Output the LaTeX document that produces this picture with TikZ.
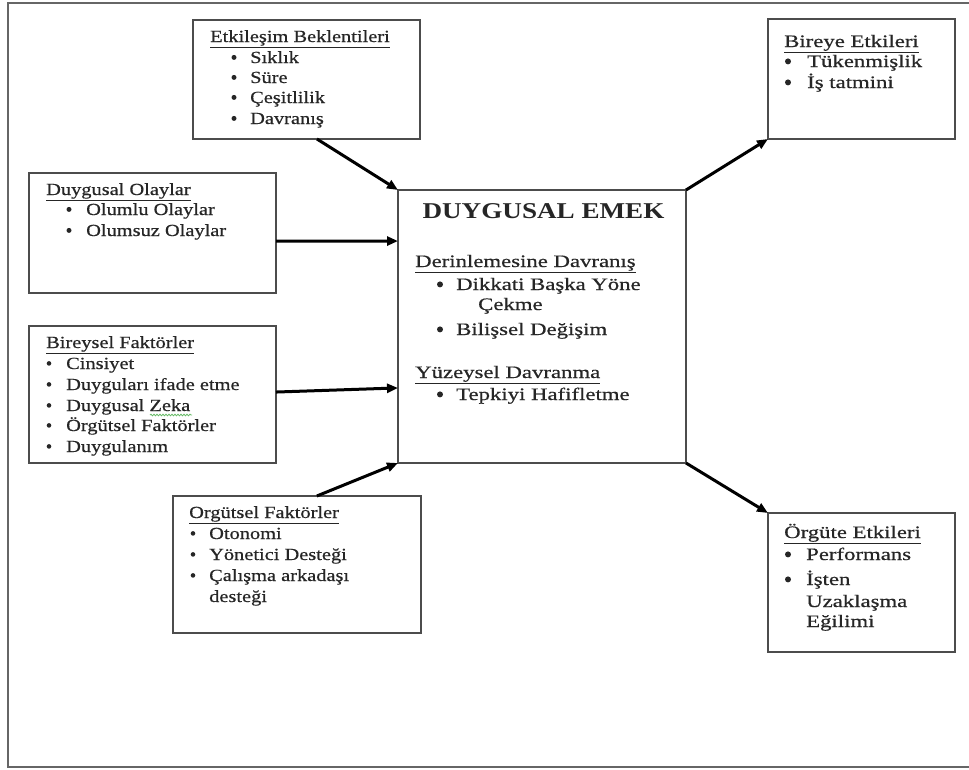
\documentclass[tikz,border=0pt]{standalone}
\usepackage{fontspec}
\setmainfont{Liberation Serif}
\newfontfamily\lfam[FakeStretch=1.2,FakeBold=0.6]{Liberation Serif}
\newfontfamily\rfam[FakeStretch=1.3,FakeBold=0.6]{Liberation Serif}
\newfontfamily\tfam[FakeStretch=1.2]{Liberation Serif}
\usetikzlibrary{arrows.meta,calc,decorations.pathmorphing}
% #1 style, #2 name, #3 bullet centre x, #4 text x, #5 baseline y, #6 text, #7 bullet radius
\newcommand\itm[7][lft]{\fill[black!85] (#3,#5-5.6) circle (#7);
  \node[#1] (#2) at (#4,#5) {#6};}
\begin{document}
\begin{tikzpicture}[x=1pt,y=-1pt,
  box/.style={draw=black!70,line width=1.5pt,rectangle,anchor=north west,inner sep=0pt,outer sep=0pt},
  lft/.style={anchor=base west,inner sep=0pt,text height=11pt,text depth=3pt,font=\lfam\fontsize{17}{20}\selectfont,text=black!85},
  rgt/.style={anchor=base west,inner sep=0pt,text height=11pt,text depth=3pt,font=\rfam\fontsize{17.5}{21}\selectfont,text=black!85},
  ttl/.style={anchor=base,inner sep=0pt,font=\tfam\bfseries\fontsize{22.6}{26}\selectfont,text=black!85},
  conn/.style={line width=3pt,-{Triangle[length=11pt,width=9pt]}}]
\useasboundingbox (0,0) rectangle (969,769);
% outer frame
\draw[black!60,line width=2pt] (8,3) rectangle (980,767);
% boxes
\node[box,minimum width=227pt,minimum height=119pt] (etk) at (193,20) {};
\node[box,minimum width=247pt,minimum height=120pt] (duy) at (29,173) {};
\node[box,minimum width=247pt,minimum height=137pt] (bir) at (29,326) {};
\node[box,minimum width=248pt,minimum height=137pt] (org) at (173,496) {};
\node[box,minimum width=288pt,minimum height=273pt] (emek) at (398,190) {};
\node[box,minimum width=187pt,minimum height=120pt] (bye) at (768,19) {};
\node[box,minimum width=187pt,minimum height=139pt] (oye) at (768,513) {};
% Etkileşim Beklentileri
\node[lft] (etkh) at (210,42) {\underline{Etkileşim Beklentileri}};
\itm{etk1}{234}{250}{63}{Sıklık}{2.5}
\itm{etk2}{234}{250}{83}{Süre}{2.5}
\itm{etk3}{234}{250}{103}{Çeşitlilik}{2.5}
\itm{etk4}{234}{250}{124}{Davranış}{2.5}
% Duygusal Olaylar
\node[lft] (duyh) at (46,195) {\underline{Duygusal Olaylar}};
\itm{duy1}{69}{86}{215}{Olumlu Olaylar}{2.5}
\itm{duy2}{69}{86}{236}{Olumsuz Olaylar}{2.5}
% Bireysel Faktörler
\node[lft] (birh) at (46,348) {\underline{Bireysel Faktörler}};
\itm{bir1}{49}{66}{369}{Cinsiyet}{2.3}
\itm{bir2}{49}{66}{390}{Duyguları ifade etme}{2.3}
\itm{bir3}{49}{66}{411}{Duygusal Zeka}{2.3}
\itm{bir4}{49}{66}{431}{Örgütsel Faktörler}{2.3}
\itm{bir5}{49}{66}{452}{Duygulanım}{2.3}
\draw[green!55!black!60,line width=0.8pt,decorate,decoration={snake,amplitude=0.8pt,segment length=3pt}] (150,415) -- (192,415);
% Örgütsel Faktörler
\node[lft] (orgh) at (189,518) {\underline{Orgütsel Faktörler}};
\itm{org1}{193}{209}{539}{Otonomi}{2.3}
\itm{org2}{193}{209}{560}{Yönetici Desteği}{2.3}
\itm{org3}{193}{209}{581}{Çalışma arkadaşı}{2.3}
\node[lft] (org4) at (209,602) {desteği};
% DUYGUSAL EMEK
\node[ttl] (emekt) at (543.5,218) {DUYGUSAL EMEK};
\node[rgt] (emh1) at (415,267) {\underline{Derinlemesine Davranış}};
\itm[rgt]{em1}{440}{456}{290}{Dikkati Başka Yöne}{3}
\node[rgt] (em1b) at (478,310) {Çekme};
\itm[rgt]{em2}{440}{456}{335}{Bilişsel Değişim}{3}
\node[rgt] (emh2) at (415,378) {\underline{Yüzeysel Davranma}};
\itm[rgt]{em3}{440}{456}{400}{Tepkiyi Hafifletme}{3}
% Bireye Etkileri
\node[rgt] (byeh) at (784,47) {\underline{Bireye Etkileri}};
\itm[rgt]{bye1}{788}{807}{67}{Tükenmişlik}{3}
\itm[rgt]{bye2}{788}{807}{88}{İş tatmini}{3}
% Örgüte Etkileri
\node[rgt] (oyeh) at (784,538) {\underline{Örgüte Etkileri}};
\itm[rgt]{oye1}{788}{806}{560}{Performans}{3}
\itm[rgt]{oye2}{788}{806}{585}{İşten}{3}
\node[rgt] (oye3) at (806,607) {Uzaklaşma};
\node[rgt] (oye4) at (806,627) {Eğilimi};
% connectors
\draw[conn] ($(etk.south west)!0.546!(etk.south east)$) -- (emek.north west);
\draw[conn] ($(duy.south east)!0.433!(duy.north east)$) -- ($(emek.north west)!0.187!(emek.south west)$);
\draw[conn] ($(bir.south east)!0.518!(bir.north east)$) -- ($(emek.south west)!0.275!(emek.north west)$);
\draw[conn] ($(org.north west)!0.58!(org.north east)$) -- (emek.south west);
\draw[conn] (emek.north east) -- (bye.south west);
\draw[conn] (emek.south east) -- (oye.north west);
\end{tikzpicture}
\end{document}
